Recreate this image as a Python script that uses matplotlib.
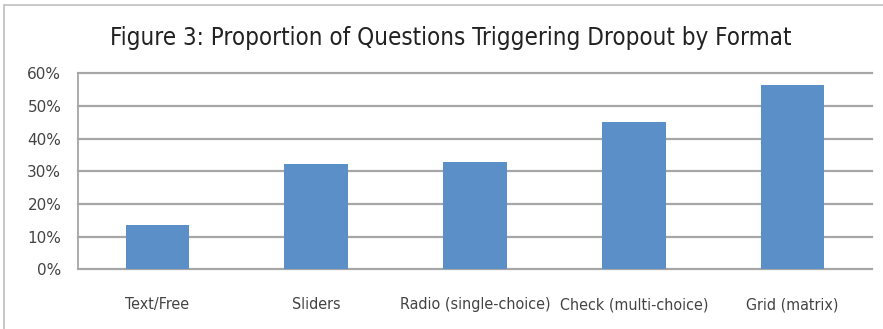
import matplotlib
matplotlib.use('Agg')
import matplotlib.pyplot as plt
from matplotlib.patches import Rectangle
from matplotlib.ticker import FuncFormatter

# data
formats = ["Text/Free", "Sliders", "Radio (single-choice)", "Check (multi-choice)", "Grid (matrix)"]
dropout = [0.136, 0.322, 0.330, 0.450, 0.564]
yticks = [0, 0.1, 0.2, 0.3, 0.4, 0.5, 0.6]

plt.rcParams['font.family'] = ['DejaVu Sans']
plt.rcParams['font.stretch'] = 'condensed'

fig = plt.figure(figsize=(8.83, 3.29), dpi=100)
ax = fig.add_axes([0.0883, 0.1815, 0.8992, 0.5955])

ax.bar(range(len(formats)), dropout, width=0.4, color='#5b8fc8', zorder=3)

ax.set_xlim(-0.5, len(formats) - 0.5)
ax.set_ylim(0, 0.6)
ax.set_yticks(yticks)
ax.yaxis.set_major_formatter(FuncFormatter(lambda v, p: f"{v*100:.0f}%"))
ax.set_xticks(range(len(formats)))
ax.set_xticklabels(formats)
for t in yticks:
    ax.axhline(t, color='#a6a6a6', linewidth=1.6, zorder=0, clip_on=False)
for s in ['top', 'right', 'bottom']:
    ax.spines[s].set_visible(False)
ax.spines['left'].set_color('#a6a6a6')
ax.spines['left'].set_linewidth(1.3)
ax.tick_params(length=0, colors='#444444')
ax.tick_params(axis='x', pad=20, labelsize=11.5)
ax.tick_params(axis='y', pad=12, labelsize=11)
for lab in ax.get_yticklabels():
    lab.set_fontstretch('normal')

fig.text(0.511, 0.885, "Figure 3: Proportion of Questions Triggering Dropout by Format",
         ha='center', va='center', fontsize=17.3, color='#222222')

# light frame round the chart
fig.patches.append(Rectangle((4 / 883, -0.05), 1.0, 1.05 - 5 / 329, transform=fig.transFigure,
                             fill=False, edgecolor='#bfbfbf', linewidth=1.2))

fig.savefig('out.png', dpi=100)
